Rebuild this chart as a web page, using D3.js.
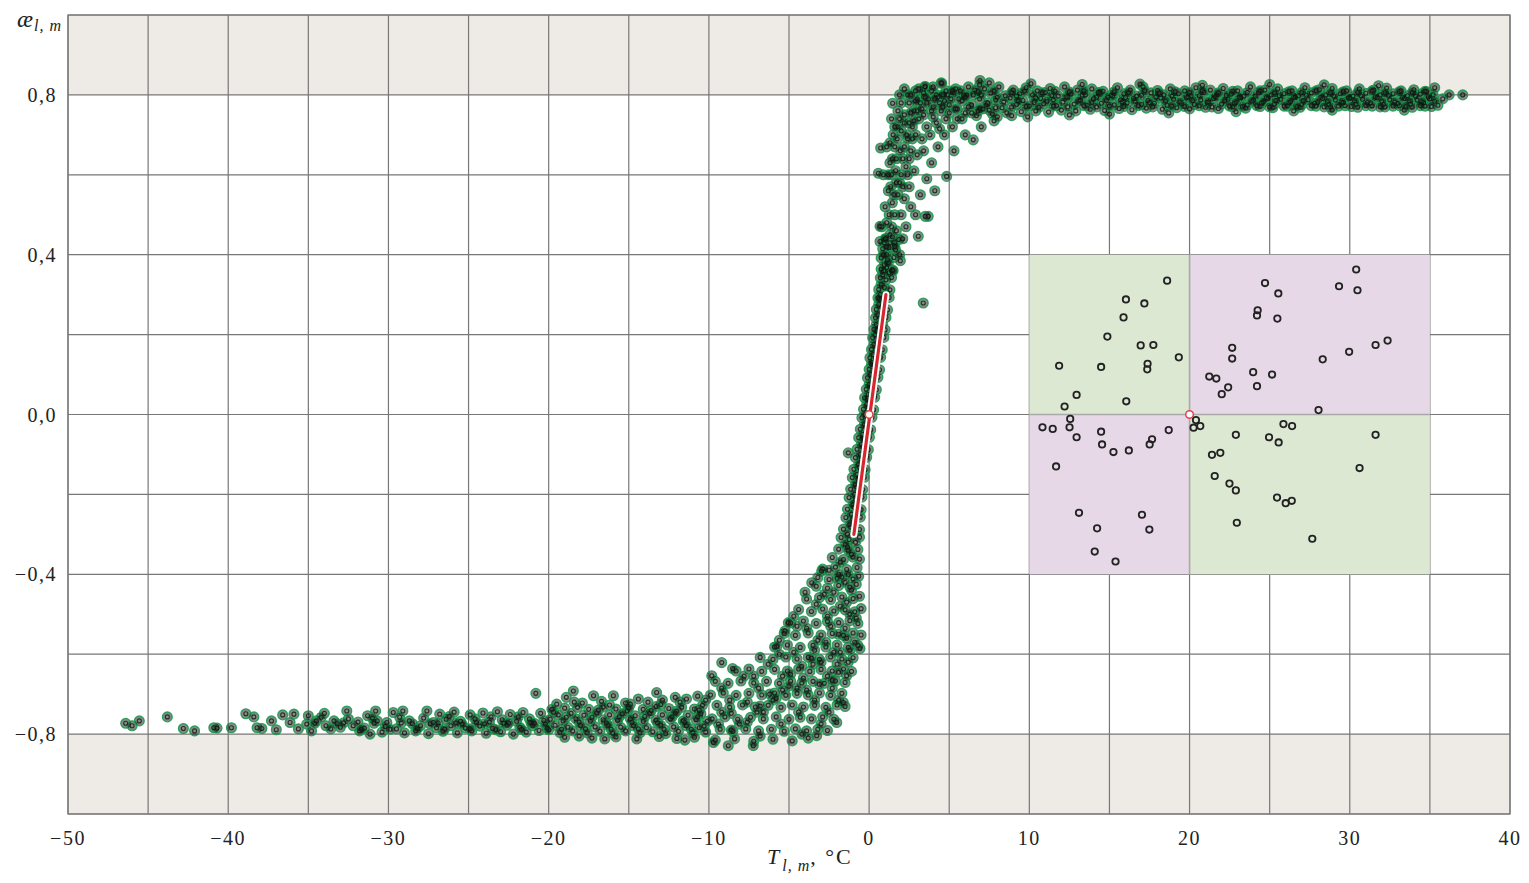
<!DOCTYPE html>
<html lang="ru">
  <head>
    <meta charset="UTF-8" />
    <script src="https://d3js.org/d3.v7.min.js"></script>
    <title>ae vs T</title>
    <style>
      body { margin: 0; background: #fff; }
      text { font-family: "Liberation Serif", "DejaVu Serif", serif; fill: #222; }
      .tick-label { font-size: 20px; letter-spacing: 1.5px; }
    </style>
  </head>
  <body>
    <svg id="chart" width="1529" height="883"></svg>
    <script>
      // axis values
      const xGrid = [-50, -45, -40, -35, -30, -25, -20, -15, -10, -5, 0, 5, 10, 15, 20, 25, 30, 35, 40];
      const yGrid = [-1, -0.8, -0.6, -0.4, -0.2, 0, 0.2, 0.4, 0.6, 0.8, 1];
      const xTickLabels = [-50, -40, -30, -20, -10, 0, 10, 20, 30, 40];
      const yTickLabels = [-0.8, -0.4, 0, 0.4, 0.8];
      const shadedBands = [[0.8, 1], [-1, -0.8]];

      // main cloud (T, ae)
      const tailPts = [[-46.4,-.773],[-46.0,-.779],[-45.55,-.767],[-43.8,-.757],[-42.8,-.786],[-42.1,-.792],[-40.9,-.784],[-40.7,-.785],[-39.8,-.784],[-38.9,-.749],[-38.4,-.757],[-38.2,-.784],[-37.9,-.786],[-37.3,-.767],[-37.0,-.789],[-36.6,-.752],[-35.9,-.75],[-36.14,-.771],[-35.62,-.787],[-35.1,-.775]];

      const lowerBand = [[-35.0,-.754],[-34.0,-.748],[-32.6,-.742],[-31.3,-.754],[-30.8,-.742],[-29.7,-.746],[-29.1,-.742],[-27.6,-.742],[-26.8,-.75],[-25.9,-.745],[-24.9,-.752],[-24.1,-.747],[-23.2,-.744],[-22.4,-.751],[-21.6,-.746],[-20.8,-.698],[-20.5,-.748],
        [-34.5,-.767],[-33.4,-.767],[-32.5,-.762],[-30.7,-.767],[-30.1,-.771],[-28.7,-.767],[-27.2,-.771],[-26.4,-.763],[-25.5,-.768],[-24.6,-.762],[-23.7,-.77],[-22.9,-.764],[-22.0,-.768],[-21.2,-.762],[-20.3,-.766],
        [-33.9,-.779],[-33.0,-.783],[-32.2,-.779],[-31.5,-.785],[-29.5,-.787],[-28.0,-.779],[-27.0,-.784],[-26.1,-.779],[-25.2,-.785],[-24.3,-.78],[-23.5,-.786],[-22.6,-.778],[-21.8,-.783],[-21.0,-.779],[-20.1,-.785],
        [-34.8,-.792],[-31.8,-.792],[-31.15,-.80],[-30.4,-.795],[-29.0,-.797],[-28.3,-.792],[-27.5,-.799],[-26.6,-.793],[-25.7,-.797],[-24.8,-.792],[-23.9,-.798],[-23.0,-.794],[-22.2,-.80],[-21.4,-.795],[-20.6,-.791],
        [-34.2,-.758],[-33.2,-.774],[-31.9,-.77],[-31.0,-.76],[-30.2,-.781],[-29.3,-.758],[-28.5,-.774],[-27.8,-.76],[-26.9,-.772],[-26.2,-.756],[-25.4,-.775],[-24.5,-.771],[-23.6,-.757],[-22.8,-.773],[-21.9,-.757],[-21.1,-.772],[-20.2,-.775]];

      const lowerCore = [[-34.6,-.773],[-33.6,-.787],[-32.8,-.772],[-31.7,-.788],[-30.9,-.773],[-29.9,-.788],[-29.2,-.772],[-28.2,-.787],[-27.4,-.774],[-26.5,-.788],[-25.8,-.772],[-24.9,-.787],[-24.0,-.774],[-23.3,-.789],[-22.5,-.772],[-21.7,-.788],[-20.9,-.773],[-20.0,-.789],
        [-19.7,-.745],[-18.9,-.758],[-18.1,-.77],[-17.3,-.758],[-16.4,-.772],[-15.6,-.757],[-14.8,-.771],[-14.0,-.756],[-13.2,-.772],[-12.3,-.757],[-11.5,-.771],[-10.7,-.757],[-10.3,-.78],[-11.1,-.788],[-12.8,-.788],[-14.4,-.787],[-16.1,-.788],[-17.7,-.787],[-19.2,-.788],
        [-18.4,-.72],[-16.9,-.74],[-15.1,-.742],[-13.6,-.741],[-12.0,-.742],[-10.6,-.74],[-11.8,-.72],[-13.0,-.726],[-14.9,-.725],[-16.2,-.727]];

      const lowerBand2 = [[-18.9,-.708],[-18.46,-.692],[-17.2,-.704],[-15.96,-.704],[-13.26,-.696],[-19.5,-.725],[-17.9,-.722],[-16.7,-.718],[-15.2,-.722],[-14.4,-.712],[-13.8,-.72],[-12.9,-.715],[-12.1,-.708],[-11.4,-.712],[-10.7,-.705],[-10.2,-.715],
        [-19.8,-.738],[-19.0,-.735],[-18.2,-.733],[-17.5,-.738],[-16.6,-.732],[-15.8,-.737],[-15.0,-.734],[-14.1,-.738],[-13.3,-.731],[-12.5,-.736],[-11.7,-.733],[-10.9,-.737],[-10.4,-.728],
        [-19.4,-.752],[-18.6,-.748],[-17.8,-.753],[-17.0,-.747],[-16.2,-.752],[-15.4,-.749],[-14.6,-.754],[-13.7,-.748],[-12.9,-.752],[-12.1,-.747],[-11.3,-.753],[-10.5,-.749],
        [-19.9,-.763],[-19.1,-.767],[-18.3,-.762],[-17.4,-.768],[-16.6,-.764],[-15.7,-.766],[-14.9,-.762],[-14.1,-.768],[-13.3,-.765],[-12.4,-.762],[-11.6,-.767],[-10.8,-.764],[-10.1,-.768],
        [-19.6,-.778],[-18.8,-.783],[-18.0,-.779],[-17.1,-.782],[-16.3,-.778],[-15.5,-.783],[-14.7,-.779],[-13.9,-.784],[-13.0,-.778],[-12.2,-.782],[-11.4,-.779],[-10.6,-.784],
        [-19.3,-.796],[-18.5,-.792],[-17.6,-.797],[-16.8,-.793],[-16.0,-.798],[-15.2,-.792],[-14.3,-.797],[-13.5,-.794],[-12.7,-.799],[-11.9,-.793],[-11.0,-.797],[-10.2,-.795],
        [-19.0,-.808],[-17.3,-.81],[-15.8,-.807],[-14.5,-.812],[-13.1,-.806],[-12.0,-.811],[-10.9,-.808],[-18.1,-.805],[-16.5,-.812],[-11.5,-.815]];

      const risePts = [[-3.3,-.43],[-2.6,-.435],[-1.9,-.428],[-1.2,-.432],[-0.8,-.425],
        [-3.9,-.462],[-3.1,-.458],[-2.4,-.463],[-1.7,-.457],[-1.0,-.461],[-0.6,-.455],
        [-4.4,-.488],[-3.6,-.493],[-2.9,-.487],[-2.2,-.492],[-1.5,-.489],[-0.9,-.494],[-0.5,-.486],
        [-4.9,-.522],[-4.1,-.517],[-3.3,-.523],[-2.6,-.518],[-1.9,-.521],[-1.2,-.516],[-0.7,-.523],
        [-5.3,-.548],[-4.6,-.553],[-3.8,-.547],[-3.0,-.552],[-2.3,-.548],[-1.6,-.553],[-1.0,-.547],[-0.5,-.552],
        [-5.9,-.582],[-5.1,-.577],[-4.3,-.583],[-3.5,-.578],[-2.7,-.582],[-2.0,-.577],[-1.3,-.583],[-0.7,-.578],
        [-6.8,-.608],[-6.0,-.613],[-5.2,-.607],[-4.5,-.612],[-3.8,-.608],[-3.1,-.613],[-2.4,-.607],[-1.7,-.612],[-1.0,-.609],
        [-8.3,-.642],[-7.5,-.637],[-6.7,-.643],[-5.9,-.638],[-5.1,-.642],[-4.4,-.637],[-3.7,-.643],[-3.0,-.638],[-2.3,-.642],[-1.6,-.637],[-1.1,-.643],
        [-9.6,-.668],[-8.8,-.673],[-8.0,-.667],[-7.2,-.672],[-6.4,-.668],[-5.6,-.673],[-4.9,-.667],[-4.2,-.672],[-3.5,-.668],[-2.8,-.673],[-2.1,-.667],[-1.5,-.671],
        [-9.9,-.702],[-9.1,-.697],[-8.3,-.703],[-7.5,-.698],[-6.7,-.702],[-5.9,-.697],[-5.2,-.703],[-4.5,-.698],[-3.8,-.702],[-3.1,-.697],[-2.4,-.703],[-1.7,-.698],
        [-9.5,-.728],[-8.7,-.733],[-7.9,-.727],[-7.1,-.732],[-6.3,-.728],[-5.5,-.733],[-4.8,-.727],[-4.1,-.732],[-3.4,-.728],[-2.7,-.733],[-2.0,-.727],[-1.5,-.731],
        [-9.8,-.762],[-9.0,-.757],[-8.2,-.763],[-7.4,-.758],[-6.6,-.762],[-5.8,-.757],[-5.0,-.763],[-4.3,-.758],[-3.6,-.762],[-2.9,-.757],[-2.2,-.763],
        [-9.3,-.788],[-8.5,-.793],[-7.7,-.787],[-6.9,-.792],[-6.1,-.788],[-5.3,-.793],[-4.6,-.787],[-3.9,-.792],[-3.2,-.788],[-2.6,-.791],
        [-9.6,-.815],[-8.4,-.812],[-7.2,-.818],[-6.0,-.813],[-4.8,-.817],[-3.8,-.81],
        [-4.0,-.445],[-2.2,-.445],[-1.4,-.47],[-3.3,-.475],[-4.7,-.505],[-2.6,-.505],[-1.5,-.535],[-3.9,-.535],[-5.6,-.565],[-3.2,-.565],[-1.8,-.595],[-4.7,-.595],[-6.3,-.625],[-3.5,-.625],[-2.0,-.625],[-7.8,-.655],[-5.4,-.655],[-2.6,-.655],[-9.2,-.685],[-6.9,-.685],[-4.5,-.685],[-2.3,-.685],[-8.7,-.715],[-6.0,-.715],[-3.4,-.715],[-1.9,-.715],[-9.2,-.745],[-7.0,-.745],[-4.4,-.745],[-2.5,-.745],[-8.1,-.775],[-5.5,-.775],[-3.0,-.775],[-6.8,-.805],[-4.2,-.8],
        [-9.82,-.654],[-9.2,-.621],[-8.52,-.636],[-5.77,-.581],[-5.25,-.542],[-5.04,-.521],[-3.58,-.421],[-2.96,-.392],[-0.57,-.586],[-1.40,-.654],[-1.61,-.721],[-2.02,-.771],[-3.27,-.804],[-7.23,-.829],[-8.79,-.829],[-9.72,-.821]];

      const riseCore = [[-9.4,-.775],[-8.6,-.748],[-7.6,-.72],[-6.8,-.73],[-6.2,-.70],[-5.4,-.69],[-4.9,-.65],[-4.1,-.66],[-3.6,-.61],[-3.0,-.62],[-2.7,-.57],[-2.2,-.595],[-1.9,-.55],[-1.4,-.56],[-1.2,-.5],[-1.8,-.48],[-2.4,-.53],[-3.4,-.59],[-4.2,-.63],[-5.0,-.68],[-5.8,-.71],[-6.6,-.745],[-7.6,-.77],[-8.6,-.79],
        [-3.9,-.69],[-3.1,-.675],[-2.3,-.665],[-1.9,-.645],[-1.3,-.62],[-1.2,-.59],[-0.9,-.57],[-0.8,-.51],[-1.1,-.44],[-2.0,-.41],[-2.8,-.45],[-4.5,-.53],[-5.6,-.6],[-7.2,-.655]];

      const steepPts = [[1.05,.44],[1.45,.445],[1.85,.438],[0.85,.415],[1.25,.418],[1.65,.412],[0.75,.392],[1.15,.387],[1.55,.393],[1.95,.385],
        [0.75,.364],[1.1,.368],[1.45,.362],[0.7,.342],[1.05,.337],[1.4,.343],[0.6,.313],[0.95,.318],[1.3,.312],[0.55,.292],[0.9,.287],[1.25,.293],
        [0.45,.263],[0.8,.268],[1.15,.262],[0.4,.242],[0.75,.237],[1.05,.243],[0.3,.213],[0.65,.218],[1.0,.212],[0.22,.192],[0.57,.187],[0.92,.193],
        [0.15,.163],[0.5,.168],[0.82,.162],[0.05,.142],[0.4,.137],[0.72,.143],[0.0,.113],[0.3,.118],[0.65,.112],[-0.1,.092],[0.25,.087],[0.55,.093],
        [-0.18,.063],[0.12,.068],[0.45,.062],[-0.28,.042],[0.05,.037],[0.35,.043],[-0.35,.013],[-0.05,.018],[0.28,.012],
        [-0.45,-.008],[-0.12,-.013],[0.18,-.007],[-0.55,-.037],[-0.22,-.032],[0.1,-.038],[-0.65,-.058],[-0.3,-.063],[0.02,-.057],
        [-0.75,-.087],[-0.4,-.082],[-0.05,-.088],[-0.85,-.108],[-0.5,-.113],[-0.15,-.107],[-0.95,-.137],[-0.6,-.132],[-0.25,-.138],
        [-1.05,-.158],[-0.7,-.163],[-0.3,-.157],[-1.15,-.187],[-0.8,-.182],[-0.4,-.188],[-1.25,-.208],[-0.85,-.213],[-0.45,-.207],
        [-1.35,-.237],[-0.95,-.232],[-0.5,-.238],[-1.45,-.258],[-1.05,-.263],[-0.55,-.257],[-1.6,-.287],[-1.15,-.282],[-0.6,-.288],
        [-1.75,-.308],[-1.25,-.313],[-0.6,-.307],[-1.9,-.337],[-1.35,-.332],[-0.7,-.338],[-2.3,-.358],[-1.6,-.363],[-1.0,-.357],[-0.6,-.362],
        [-2.9,-.387],[-2.1,-.382],[-1.4,-.388],[-0.75,-.383],[-3.2,-.408],[-2.5,-.413],[-1.7,-.407],[-1.0,-.412],[-0.65,-.405],
        [-1.30,-.096],[3.38,.279]];

      const steepCore = [[1.3,.43],[1.1,.40],[0.95,.375],[0.85,.35],[0.75,.325],[0.7,.30],[0.6,.275],[0.55,.25],[0.45,.225],[0.4,.20],[0.3,.175],[0.25,.15],[0.15,.125],[0.1,.10],[0.0,.075],[-0.05,.05],[-0.15,.025],[-0.25,.0],[-0.3,-.025],[-0.4,-.05],[-0.5,-.075],[-0.55,-.10],[-0.65,-.125],[-0.75,-.15],[-0.85,-.175],[-0.9,-.20],[-1.0,-.225],[-1.1,-.25],[-1.2,-.275],[-1.35,-.30],[-1.5,-.325],[-1.1,-.35],[-1.8,-.37],[-2.5,-.39],[-1.3,-.40],
        [0.95,.43],[1.6,.43],[0.9,.36],[1.25,.355],[0.65,.29],[1.05,.30],[0.5,.21],[0.85,.225],[0.2,.13],[0.5,.14],[-0.1,.04],[0.2,.05],[-0.35,-.06],[-0.1,-.045],[-0.6,-.16],[-0.45,-.14],[-0.9,-.26],[-0.7,-.24],[-1.3,-.34],[-0.85,-.32],[-1.9,-.40],[-1.5,-.42]];

      const kneePts = [[0.8,.47],[1.0,.52],[1.2,.56],[0.9,.60],[1.3,.63],[1.1,.67],[1.5,.70],[1.4,.74],[1.8,.76],[2.0,.78],[2.4,.80],[2.9,.81],[3.5,.82],[4.5,.83],
        [1.6,.50],[1.8,.55],[2.0,.60],[1.7,.64],[2.2,.67],[2.0,.71],[2.5,.73],[2.8,.76],[3.2,.78],[3.7,.79],[4.2,.80],[4.8,.81],[5.4,.815],[6.2,.82],[6.9,.825],
        [2.3,.47],[2.6,.52],[2.5,.57],[2.8,.61],[3.0,.65],[3.3,.69],[3.6,.72],[4.0,.745],[4.5,.76],[5.0,.775],[5.6,.79],[6.1,.80],
        [2.9,.50],[3.2,.55],[3.6,.59],[3.9,.63],[4.3,.67],[4.7,.70],[5.2,.72],[5.8,.74],[6.4,.755],[7.1,.765],
        [3.5,.496],[3.07,.446],[4.84,.596],[6.5,.6875],[4.1,.56],[5.3,.66],[6.0,.70],[7.0,.72],[7.8,.735],
        [1.47,.779],[0.72,.667],[0.58,.604],[0.68,.471],[0.68,.433],[3.49,.821],[4.53,.829],[6.92,.836],[3.69,.496],
        [1.3,.45],[1.9,.58],[2.3,.62],[2.6,.66],[2.9,.70],[3.1,.74],[3.9,.76],[4.4,.78],[5.1,.79],[5.9,.80],[2.1,.64],[2.7,.69],[3.4,.75],[4.0,.77],[4.7,.785],
        [1.2,.38],[1.6,.42],[1.9,.40],[2.1,.44],[1.5,.36],[1.1,.42],[0.9,.40]];

      const kneeCore = [[3.0,.79],[3.4,.805],[3.9,.81],[4.3,.795],[4.9,.80],[5.3,.805],[5.7,.81],[6.6,.812],[4.6,.77],[5.0,.755],[5.5,.765],[6.0,.755],[6.8,.76],[7.5,.762],[8.0,.745],[8.9,.748],[4.2,.73],[4.8,.74],[3.8,.70],[3.4,.66],[4.4,.715],[2.4,.69],[2.7,.72],[3.0,.76],[2.2,.75],[1.8,.72],[1.6,.67],[1.4,.60],[1.55,.55],[1.1,.48],[2.5,.78],[1.9,.80],[2.2,.815],
        [1.0,.44],[1.4,.47],[1.7,.46],[1.25,.50],[2.0,.50],[1.45,.53],[2.2,.54],[1.35,.57],[1.7,.58],[2.1,.57],[1.2,.60],[1.65,.61],[2.4,.60],[1.45,.64],[1.95,.66],[2.5,.64],[1.3,.68],[1.75,.69],[2.35,.70],[1.6,.72],[2.2,.73],[2.8,.735],[1.9,.74],[2.6,.755],[3.3,.765],[3.6,.78],[2.9,.785],[4.1,.79],[3.5,.795],[4.6,.80],[5.2,.81],[2.6,.80],[3.1,.815],[4.0,.82]];

      const upperBand = [[7.2,.815],[8.1,.82],[9.0,.812],[9.8,.818],[10.5,.81],[11.3,.816],[12.2,.82],[13.0,.812],[13.9,.815],[14.6,.809],[15.5,.818],[16.3,.812],[17.1,.82],[18.0,.811],[18.8,.815],[19.7,.81],[20.4,.818],[21.3,.812],[22.1,.816],[23.0,.81],[23.8,.82],[24.7,.812],[25.5,.815],[26.4,.81],[27.2,.818],[28.1,.813],[28.9,.816],[29.8,.81],[30.6,.815],[31.5,.812],[32.3,.817],[33.2,.81],[34.0,.813],[34.8,.808],
        [6.5,.80],[7.6,.805],[8.5,.798],[9.4,.803],[10.2,.80],[11.0,.806],[11.8,.797],[12.6,.802],[13.5,.80],[14.3,.806],[15.1,.799],[15.9,.803],[16.7,.797],[17.6,.805],[18.4,.80],[19.3,.803],[20.1,.798],[20.9,.806],[21.7,.80],[22.6,.802],[23.4,.797],[24.3,.805],[25.1,.80],[25.9,.803],[26.8,.798],[27.6,.805],[28.5,.80],[29.4,.803],[30.2,.797],[31.0,.804],[31.9,.80],[32.7,.803],[33.6,.798],[34.4,.802],[35.2,.80],
        [5.8,.785],[6.9,.79],[7.9,.787],[8.8,.792],[9.6,.786],[10.7,.791],[11.5,.788],[12.4,.793],[13.2,.787],[14.0,.79],[14.9,.794],[15.7,.788],[16.5,.791],[17.4,.786],[18.2,.792],[19.0,.789],[19.9,.794],[20.7,.787],[21.5,.791],[22.4,.789],[23.2,.793],[24.0,.787],[24.9,.791],[25.7,.789],[26.6,.794],[27.4,.788],[28.3,.791],[29.1,.787],[30.0,.792],[30.8,.789],[31.7,.793],[32.5,.788],[33.4,.791],[34.2,.787],[35.0,.79]];

      const upperBand2 = [[6.2,.77],[7.3,.774],[8.3,.768],[9.2,.776],[10.0,.772],[10.9,.778],[11.7,.773],[12.8,.777],[13.6,.774],[14.5,.779],[15.3,.775],[16.1,.78],[17.0,.776],[17.8,.779],[18.6,.774],[19.5,.778],[20.3,.776],[21.1,.781],[22.0,.777],[22.8,.779],[23.6,.775],[24.5,.78],[25.3,.777],[26.2,.781],[27.0,.776],[27.8,.779],[28.7,.776],[29.6,.781],[30.4,.777],[31.3,.78],[32.1,.776],[33.0,.779],[33.8,.777],[34.6,.78],
        [5.5,.74],[6.7,.748],[7.7,.752],[8.6,.755],[9.5,.758],[10.4,.76],[11.2,.757],[12.0,.762],[12.9,.76],[13.8,.764],[14.7,.761],[15.6,.766],[16.4,.763],[17.3,.767],[18.3,.764],[19.2,.768],[20.0,.765],[21.0,.769],[21.8,.766],[22.7,.77],[23.5,.767],[24.4,.771],[25.2,.768],[26.1,.772],[26.9,.769],[27.9,.772],[28.8,.77],[29.7,.773],[30.5,.769],[31.4,.772],[32.2,.77],[33.1,.773],[33.9,.769],[34.7,.772],[35.5,.774],
        [7.5,.83],[10.1,.828],[13.3,.826],[16.9,.827],[20.8,.824],[25.0,.826],[28.4,.825],[31.8,.823],[35.3,.818],
        [9.9,.745],[12.5,.75],[15.0,.752],[18.7,.755],[22.9,.758],[26.5,.76],[28.9,.762],[33.4,.762],[35.8,.79],[36.2,.80],[37.05,.80]];

      const upperCore = [[6.0,.795],[7.0,.80],[8.0,.794],[9.2,.797],[10.4,.793],[11.4,.798],[12.3,.795],[13.3,.799],[14.2,.794],[15.2,.797],[16.0,.793],[17.0,.799],[17.9,.795],[18.9,.797],[19.8,.793],[20.6,.798],[21.6,.795],[22.3,.799],[23.1,.794],[24.1,.797],[24.8,.793],[25.6,.798],[26.5,.795],[27.3,.799],[28.2,.794],[29.0,.797],[29.9,.793],[30.7,.798],[31.6,.795],[32.4,.799],[33.3,.794],[34.1,.797],[34.9,.795],
        [5.4,.765],[6.4,.775],[7.4,.78],[8.4,.782],[9.3,.785],[10.3,.781],[11.1,.784],[12.1,.782],[13.1,.785],[13.9,.781],[14.8,.786],[15.8,.782],[16.6,.784],[17.5,.781],[18.5,.785],[19.4,.782],[20.2,.786],[21.2,.783],[22.2,.785],[22.9,.781],[23.9,.784],[24.6,.782],[25.4,.786],[26.3,.783],[27.1,.785],[28.0,.781],[28.6,.784],[29.5,.782],[30.3,.785],[31.1,.781],[32.0,.784],[32.8,.782],[33.7,.785],[34.5,.783],[35.3,.784],
        [6.8,.808],[7.8,.81],[8.9,.806],[9.7,.809],[10.8,.805],[11.6,.809],[12.5,.807],[13.4,.81],[14.4,.805],[15.3,.808],[16.2,.806],[17.2,.81],[18.1,.805],[19.1,.808],[20.0,.806],[20.8,.81],[21.8,.805],[22.7,.809],[23.6,.806],[24.4,.81],[25.3,.805],[26.2,.808],[27.0,.806],[27.9,.81],[28.8,.805],[29.6,.808],[30.5,.806],[31.4,.81],[32.2,.805],[33.1,.808],[33.9,.806],[34.7,.809],
        [6.9,.765],[7.9,.768],[8.9,.77],[9.8,.771],[10.6,.769],[11.5,.772],[12.4,.77],[13.4,.773],[14.2,.77],[15.0,.772],[15.9,.771],[16.8,.773],[17.7,.77],[18.9,.772],[19.7,.771],[20.6,.773],[21.4,.77],[22.5,.772],[23.3,.771],[24.2,.773],[25.0,.77],[25.9,.772],[26.7,.771],[27.6,.773],[28.4,.77],[29.3,.772],[30.1,.771],[31.0,.773],[31.9,.77],[32.7,.772],[33.5,.771],[34.4,.773],[35.1,.771]];

      // inset: quadrant edges and scattered points
      const insetT = [10, 20, 35];
      const insetA = [-0.4, 0, 0.4];
      const insetTopLeft = [[18.6,.335],[16.03,.288],[17.18,.278],[15.88,.243],[14.87,.195],[16.95,.173],[17.74,.174],[19.33,.143],[11.86,.122],[14.48,.119],[17.38,.127],[17.36,.113],[12.95,.049],[12.2,.02],[16.05,.033]];
      const insetTopRight = [[30.4,.363],[24.71,.329],[29.33,.321],[30.48,.311],[25.54,.303],[24.25,.261],[24.21,.248],[25.48,.24],[31.61,.174],[32.36,.185],[29.96,.157],[28.31,.138],[22.66,.167],[22.66,.14],[23.97,.106],[25.15,.1],[21.23,.095],[21.67,.09],[22.41,.068],[24.21,.071],[22.01,.051],[28.05,.011]];
      const insetBottomLeft = [[12.55,-.011],[10.82,-.032],[11.46,-.036],[12.51,-.032],[12.95,-.057],[14.48,-.043],[14.54,-.075],[15.25,-.094],[16.21,-.09],[17.66,-.062],[17.51,-.075],[18.7,-.039],[11.67,-.13],[13.1,-.246],[17.03,-.251],[14.23,-.285],[17.49,-.288],[14.08,-.343],[15.38,-.368]];
      const insetBottomRight = [[20.4,-.014],[20.25,-.033],[20.67,-.029],[22.89,-.051],[24.96,-.057],[25.56,-.07],[25.86,-.024],[26.4,-.029],[31.61,-.051],[21.4,-.101],[21.92,-.096],[21.57,-.154],[22.49,-.173],[22.89,-.19],[30.61,-.134],[25.46,-.208],[26.0,-.222],[26.38,-.216],[22.95,-.271],[27.66,-.311]];

      const fitLine = [[-0.95, -0.30], [1.05, 0.30]];
      const centres = [[0, 0], [20, 0]];

      const width = 1529, height = 883;
      const svg = d3.select("#chart");
      const x = d3.scaleLinear().domain([-50, 40]).range([68, 1510]);
      const y = d3.scaleLinear().domain([-1, 1]).range([814, 15]);

      svg.append("rect").attr("width", width).attr("height", height).attr("fill", "#fff");

      // shaded bands beyond +-0.8
      svg.selectAll(".band")
        .data(shadedBands)
        .join("rect")
        .attr("x", x(-50))
        .attr("width", x(40) - x(-50))
        .attr("y", d => y(d[1]))
        .attr("height", d => y(d[0]) - y(d[1]))
        .attr("fill", "#eeebe6");

      const grid = svg.append("g").attr("stroke", "#777").attr("stroke-width", 1.2);
      grid.selectAll(".vx")
        .data(xGrid)
        .join("line")
        .attr("x1", d => x(d)).attr("x2", d => x(d))
        .attr("y1", y(1)).attr("y2", y(-1));
      grid.selectAll(".hy")
        .data(yGrid)
        .join("line")
        .attr("x1", x(-50)).attr("x2", x(40))
        .attr("y1", d => y(d)).attr("y2", d => y(d));

      // inset quadrants (covering the grid)
      const quads = [];
      for (let i = 0; i < 2; i++) {
        for (let j = 0; j < 2; j++) {
          quads.push({ t0: insetT[i], t1: insetT[i + 1], a0: insetA[j], a1: insetA[j + 1], green: (i + j) % 2 === 1 });
        }
      }
      svg.append("g").selectAll("rect")
        .data(quads)
        .join("rect")
        .attr("x", d => x(d.t0))
        .attr("y", d => y(d.a1))
        .attr("width", d => x(d.t1) - x(d.t0))
        .attr("height", d => y(d.a0) - y(d.a1))
        .attr("fill", d => d.green ? "#dce8d2" : "#e7d8e8");

      const sep = svg.append("g").attr("stroke", "#a9a9a9").attr("stroke-width", 1.6);
      sep.append("line")
        .attr("x1", x(insetT[1])).attr("x2", x(insetT[1]))
        .attr("y1", y(insetA[2])).attr("y2", y(insetA[0]));
      sep.append("line")
        .attr("x1", x(insetT[0])).attr("x2", x(insetT[2]))
        .attr("y1", y(insetA[1])).attr("y2", y(insetA[1]));

      // main cloud: green rings first, then the small dark rings on top
      const cloud = [].concat(tailPts, lowerBand, lowerCore, lowerBand2, risePts, riseCore,
        steepPts, steepCore, kneePts, kneeCore, upperBand, upperBand2, upperCore);
      svg.append("g").selectAll("circle")
        .data(cloud)
        .join("circle")
        .attr("cx", d => x(d[0]))
        .attr("cy", d => y(d[1]))
        .attr("r", 4.9)
        .attr("fill", "rgba(6,28,14,0.5)")
        .attr("stroke", "#1e9a50")
        .attr("stroke-opacity", 0.9)
        .attr("stroke-width", 1.3);
      svg.append("g").selectAll("circle")
        .data(cloud)
        .join("circle")
        .attr("cx", d => x(d[0]))
        .attr("cy", d => y(d[1]))
        .attr("r", 2.0)
        .attr("fill", "none")
        .attr("stroke", "#141414")
        .attr("stroke-opacity", 0.8)
        .attr("stroke-width", 1.1);

      // inset points
      const insetPts = [].concat(insetTopLeft, insetTopRight, insetBottomLeft, insetBottomRight);
      svg.append("g").selectAll("circle")
        .data(insetPts)
        .join("circle")
        .attr("cx", d => x(d[0]))
        .attr("cy", d => y(d[1]))
        .attr("r", 3.2)
        .attr("fill", "none")
        .attr("stroke", "#222")
        .attr("stroke-width", 1.8);

      // fitted line through the centre
      const line = d3.line().x(d => x(d[0])).y(d => y(d[1]));
      svg.append("path").datum(fitLine).attr("d", line)
        .attr("stroke", "#fff").attr("stroke-width", 7).attr("stroke-linecap", "round").attr("fill", "none");
      svg.append("path").datum(fitLine).attr("d", line)
        .attr("stroke", "#d8262f").attr("stroke-width", 3.2).attr("stroke-linecap", "round").attr("fill", "none");

      svg.append("g").selectAll("circle")
        .data(centres)
        .join("circle")
        .attr("cx", d => x(d[0]))
        .attr("cy", d => y(d[1]))
        .attr("r", 3.8)
        .attr("fill", "#fff")
        .attr("stroke", "#e0434b")
        .attr("stroke-width", 1.5);

      // frame
      svg.append("rect")
        .attr("x", x(-50)).attr("y", y(1))
        .attr("width", x(40) - x(-50)).attr("height", y(-1) - y(1))
        .attr("fill", "none").attr("stroke", "#777").attr("stroke-width", 1.2);

      // tick labels
      const fmtY = d => d.toFixed(1).replace(".", ",").replace("-", "\u2212");
      const fmtX = d => String(d).replace("-", "\u2212");
      svg.append("g").selectAll("text")
        .data(xTickLabels)
        .join("text")
        .attr("class", "tick-label")
        .attr("x", d => x(d))
        .attr("y", 845)
        .attr("text-anchor", "middle")
        .text(fmtX);
      svg.append("g").selectAll("text")
        .data(yTickLabels)
        .join("text")
        .attr("class", "tick-label")
        .attr("x", 57)
        .attr("y", d => y(d) + 7)
        .attr("text-anchor", "end")
        .text(fmtY);

      // axis titles
      const yt = svg.append("text").attr("x", 17).attr("y", 27);
      yt.append("tspan").attr("font-style", "italic").attr("font-size", 24).text("æ");
      yt.append("tspan").attr("font-style", "italic").attr("font-size", 16).attr("letter-spacing", 1).attr("dy", 4).attr("dx", 1).text("l, m");

      const xt = svg.append("text").attr("x", 767).attr("y", 864);
      xt.append("tspan").attr("font-style", "italic").attr("font-size", 22).text("T");
      xt.append("tspan").attr("font-style", "italic").attr("font-size", 16).attr("letter-spacing", 1).attr("dy", 7).attr("dx", 3).text("l, m");
      xt.append("tspan").attr("font-size", 22).attr("letter-spacing", 2).attr("dy", -7).text(", \u00b0C");
    </script>
  </body>
</html>
